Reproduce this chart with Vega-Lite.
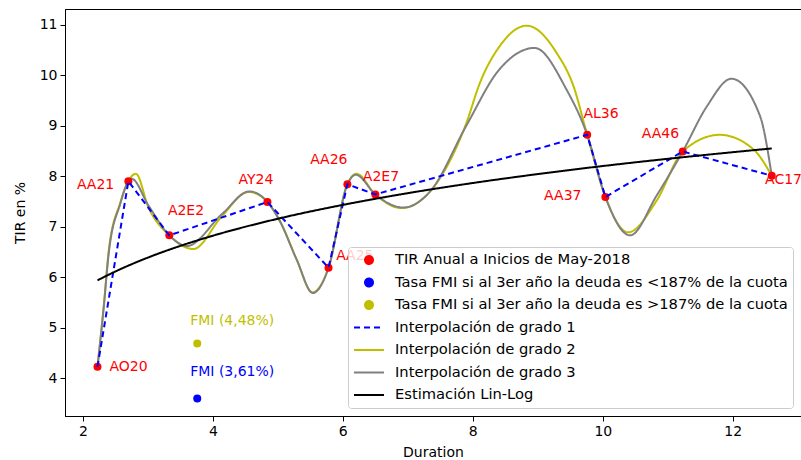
{
  "$schema": "https://vega.github.io/schema/vega-lite/v6.json",
  "width": 736,
  "height": 407,
  "autosize": {"type": "none"},
  "padding": {"left": 65, "top": 9, "right": 0, "bottom": 44},
  "background": "white",
  "config": {
    "font": "DejaVu Sans",
    "view": {"stroke": "black", "strokeWidth": 1},
    "axis": {
      "grid": false, "domainColor": "black", "tickColor": "black", "labelColor": "black",
      "titleColor": "black", "labelFontSize": 14, "titleFontSize": 14, "titleFontWeight": "normal",
      "tickSize": 5, "labelPadding": 3, "domainWidth": 1, "tickWidth": 1, "labelFont": "DejaVu Sans", "titleFont": "DejaVu Sans"
    }
  },
  "datasets": {
    "bonds": [
      {"name": "AO20", "x": 2.225, "y": 4.23, "tx": 2.409, "ty": 4.231},
      {"name": "AA21", "x": 2.70, "y": 7.90, "tx": 1.908, "ty": 7.817},
      {"name": "A2E2", "x": 3.33, "y": 6.83, "tx": 3.308, "ty": 7.322},
      {"name": "AY24", "x": 4.84, "y": 7.49, "tx": 4.394, "ty": 7.921},
      {"name": "AA25", "x": 5.78, "y": 6.19, "tx": 5.897, "ty": 6.418},
      {"name": "AA26", "x": 6.07, "y": 7.84, "tx": 5.497, "ty": 8.317},
      {"name": "A2E7", "x": 6.50, "y": 7.64, "tx": 6.308, "ty": 7.989},
      {"name": "AL36", "x": 9.76, "y": 8.82, "tx": 9.702, "ty": 9.240},
      {"name": "AA37", "x": 10.04, "y": 7.59, "tx": 9.097, "ty": 7.605},
      {"name": "AA46", "x": 11.23, "y": 8.49, "tx": 10.60, "ty": 8.839},
      {"name": "AC17", "x": 12.60, "y": 8.01, "tx": 12.497, "ty": 7.935}
    ],
    "fmi": [
      {"series": "Tasa FMI si al 3er año la deuda es <187% de la cuota", "x": 3.76, "y": 3.60, "label": "FMI (3,61%)", "tx": 3.651, "ty": 4.119},
      {"series": "Tasa FMI si al 3er año la deuda es >187% de la cuota", "x": 3.76, "y": 4.69, "label": "FMI (4,48%)", "tx": 3.651, "ty": 5.127}
    ],
    "grado2": [
      {"x": 2.225, "y": 4.23}, {"x": 2.32, "y": 5.40}, {"x": 2.40, "y": 6.55}, {"x": 2.574, "y": 7.47},
      {"x": 2.70, "y": 7.90}, {"x": 2.815, "y": 8.05}, {"x": 3.01, "y": 7.38}, {"x": 3.33, "y": 6.83},
      {"x": 3.70, "y": 6.56}, {"x": 4.14, "y": 7.21}, {"x": 4.55, "y": 7.69}, {"x": 4.84, "y": 7.49},
      {"x": 5.035, "y": 7.11}, {"x": 5.29, "y": 6.35}, {"x": 5.53, "y": 5.70}, {"x": 5.78, "y": 6.19},
      {"x": 6.07, "y": 7.84}, {"x": 6.21, "y": 8.05}, {"x": 6.50, "y": 7.64}, {"x": 6.90, "y": 7.37},
      {"x": 7.35, "y": 7.71}, {"x": 7.90, "y": 9.05}, {"x": 8.11, "y": 9.85}, {"x": 8.40, "y": 10.55},
      {"x": 8.83, "y": 10.98}, {"x": 9.29, "y": 10.44}, {"x": 9.55, "y": 9.78}, {"x": 9.76, "y": 8.82},
      {"x": 10.04, "y": 7.59}, {"x": 10.39, "y": 6.89}, {"x": 10.83, "y": 7.52}, {"x": 11.23, "y": 8.49},
      {"x": 11.80, "y": 8.82}, {"x": 12.32, "y": 8.53}, {"x": 12.60, "y": 8.01}
    ],
    "grado3": [
      {"x": 2.225, "y": 4.23}, {"x": 2.32, "y": 5.40}, {"x": 2.40, "y": 6.50}, {"x": 2.574, "y": 7.45},
      {"x": 2.70, "y": 7.90}, {"x": 2.75, "y": 7.95}, {"x": 3.01, "y": 7.42}, {"x": 3.33, "y": 6.83},
      {"x": 3.60, "y": 6.62}, {"x": 4.14, "y": 7.25}, {"x": 4.56, "y": 7.70}, {"x": 4.84, "y": 7.49},
      {"x": 5.035, "y": 7.10}, {"x": 5.29, "y": 6.35}, {"x": 5.54, "y": 5.69}, {"x": 5.78, "y": 6.19},
      {"x": 6.07, "y": 7.84}, {"x": 6.20, "y": 8.03}, {"x": 6.50, "y": 7.64}, {"x": 6.93, "y": 7.38},
      {"x": 7.35, "y": 7.71}, {"x": 7.90, "y": 9.00}, {"x": 8.40, "y": 10.10}, {"x": 8.95, "y": 10.54},
      {"x": 9.44, "y": 9.72}, {"x": 9.76, "y": 8.82}, {"x": 10.04, "y": 7.59}, {"x": 10.42, "y": 6.83},
      {"x": 10.83, "y": 7.62}, {"x": 11.23, "y": 8.49}, {"x": 11.60, "y": 9.38}, {"x": 11.98, "y": 9.93},
      {"x": 12.42, "y": 9.19}, {"x": 12.60, "y": 8.01}
    ],
    "linlog": [
      {"x": 2.225, "y": 5.94}, {"x": 2.5, "y": 6.115}, {"x": 3, "y": 6.39}, {"x": 3.5, "y": 6.622},
      {"x": 4, "y": 6.823}, {"x": 5, "y": 7.159}, {"x": 6, "y": 7.433}, {"x": 7, "y": 7.665},
      {"x": 8, "y": 7.866}, {"x": 9, "y": 8.043}, {"x": 10, "y": 8.202}, {"x": 11, "y": 8.345},
      {"x": 12, "y": 8.476}, {"x": 12.6, "y": 8.55}
    ]
  },
  "layer": [
    {
      "data": {"name": "grado2"},
      "mark": {"type": "line", "strokeWidth": 2, "interpolate": "monotone"},
      "encoding": {
        "x": {"field": "x", "type": "quantitative", "title": "Duration",
              "scale": {"domain": [1.725, 13.05], "nice": false, "zero": false},
              "axis": {"values": [2, 4, 6, 8, 10, 12], "format": "d", "titlePadding": 7}},
        "y": {"field": "y", "type": "quantitative", "title": "TIR en %",
              "scale": {"domain": [3.255, 11.31], "nice": false, "zero": false},
              "axis": {"values": [4, 5, 6, 7, 8, 9, 10, 11], "format": "d", "titlePadding": 12}},
        "color": {"datum": "Interpolación de grado 2", "type": "nominal", "title": null,
          "scale": {"domain": ["TIR Anual a Inicios de May-2018", "Tasa FMI si al 3er año la deuda es <187% de la cuota", "Tasa FMI si al 3er año la deuda es >187% de la cuota", "Interpolación de grado 1", "Interpolación de grado 2", "Interpolación de grado 3", "Estimación Lin-Log"],
                    "range": ["#ff0000", "#0000ff", "#bfbf00", "#0000ff", "#bfbf00", "#808080", "#000000"]},
          "legend": {
            "title": null, "orient": "bottom-right", "offset": 8, "padding": 5,
            "fillColor": "rgba(255,255,255,0.8)", "strokeColor": "#cccccc", "cornerRadius": 3,
            "labelFont": "DejaVu Sans", "labelFontSize": 14.7, "labelColor": "black", "labelLimit": 700,
            "symbolStrokeWidth": 2, "symbolOpacity": 1,
            "clipHeight": 16, "rowPadding": 6.5, "labelOffset": 10
          }},
        "strokeDash": {"datum": "Interpolación de grado 2", "type": "nominal", "title": null,
          "scale": {"domain": ["TIR Anual a Inicios de May-2018", "Tasa FMI si al 3er año la deuda es <187% de la cuota", "Tasa FMI si al 3er año la deuda es >187% de la cuota", "Interpolación de grado 1", "Interpolación de grado 2", "Interpolación de grado 3", "Estimación Lin-Log"],
                    "range": [[1, 0], [1, 0], [1, 0], [6, 4], [1, 0], [1, 0], [1, 0]]}}
      }
    },
    {
      "data": {"name": "grado3"},
      "mark": {"type": "line", "strokeWidth": 2, "interpolate": "monotone"},
      "encoding": {
        "x": {"field": "x", "type": "quantitative", "scale": {"domain": [1.725, 13.05], "nice": false, "zero": false}},
        "y": {"field": "y", "type": "quantitative", "scale": {"domain": [3.255, 11.31], "nice": false, "zero": false}},
        "color": {"datum": "Interpolación de grado 3", "type": "nominal", "title": null},
        "strokeDash": {"datum": "Interpolación de grado 3", "type": "nominal", "title": null,
          "scale": {"domain": ["TIR Anual a Inicios de May-2018", "Tasa FMI si al 3er año la deuda es <187% de la cuota", "Tasa FMI si al 3er año la deuda es >187% de la cuota", "Interpolación de grado 1", "Interpolación de grado 2", "Interpolación de grado 3", "Estimación Lin-Log"],
                    "range": [[1, 0], [1, 0], [1, 0], [6, 4], [1, 0], [1, 0], [1, 0]]}}
      }
    },
    {
      "data": {"name": "bonds"},
      "mark": {"type": "point", "filled": true, "opacity": 1},
      "encoding": {
        "x": {"field": "x", "type": "quantitative", "scale": {"domain": [1.725, 13.05], "nice": false, "zero": false}},
        "y": {"field": "y", "type": "quantitative", "scale": {"domain": [3.255, 11.31], "nice": false, "zero": false}},
        "color": {"datum": "TIR Anual a Inicios de May-2018", "type": "nominal", "title": null},
        "shape": {"datum": "TIR Anual a Inicios de May-2018", "type": "nominal", "title": null,
          "scale": {"domain": ["TIR Anual a Inicios de May-2018", "Tasa FMI si al 3er año la deuda es <187% de la cuota", "Tasa FMI si al 3er año la deuda es >187% de la cuota", "Interpolación de grado 1", "Interpolación de grado 2", "Interpolación de grado 3", "Estimación Lin-Log"],
                    "range": ["circle", "circle", "circle", "stroke", "stroke", "stroke", "stroke"]}},
        "size": {"datum": "TIR Anual a Inicios de May-2018", "type": "nominal", "title": null,
          "scale": {"type": "ordinal", "domain": ["TIR Anual a Inicios de May-2018", "Tasa FMI si al 3er año la deuda es <187% de la cuota", "Tasa FMI si al 3er año la deuda es >187% de la cuota", "Interpolación de grado 1", "Interpolación de grado 2", "Interpolación de grado 3", "Estimación Lin-Log"],
                    "range": [64, 64, 64, 900, 900, 900, 900]}}
      }
    },
    {
      "data": {"name": "fmi"},
      "mark": {"type": "point", "filled": true, "opacity": 1},
      "encoding": {
        "x": {"field": "x", "type": "quantitative", "scale": {"domain": [1.725, 13.05], "nice": false, "zero": false}},
        "y": {"field": "y", "type": "quantitative", "scale": {"domain": [3.255, 11.31], "nice": false, "zero": false}},
        "color": {"field": "series", "type": "nominal", "title": null},
        "shape": {"field": "series", "type": "nominal", "title": null,
          "scale": {"domain": ["TIR Anual a Inicios de May-2018", "Tasa FMI si al 3er año la deuda es <187% de la cuota", "Tasa FMI si al 3er año la deuda es >187% de la cuota", "Interpolación de grado 1", "Interpolación de grado 2", "Interpolación de grado 3", "Estimación Lin-Log"],
                    "range": ["circle", "circle", "circle", "stroke", "stroke", "stroke", "stroke"]}},
        "size": {"field": "series", "type": "nominal", "title": null,
          "scale": {"type": "ordinal", "domain": ["TIR Anual a Inicios de May-2018", "Tasa FMI si al 3er año la deuda es <187% de la cuota", "Tasa FMI si al 3er año la deuda es >187% de la cuota", "Interpolación de grado 1", "Interpolación de grado 2", "Interpolación de grado 3", "Estimación Lin-Log"],
                    "range": [64, 64, 64, 900, 900, 900, 900]}}
      }
    },
    {
      "data": {"name": "bonds"},
      "mark": {"type": "line", "strokeWidth": 2},
      "encoding": {
        "x": {"field": "x", "type": "quantitative", "scale": {"domain": [1.725, 13.05], "nice": false, "zero": false}},
        "y": {"field": "y", "type": "quantitative", "scale": {"domain": [3.255, 11.31], "nice": false, "zero": false}},
        "color": {"datum": "Interpolación de grado 1", "type": "nominal", "title": null},
        "strokeDash": {"datum": "Interpolación de grado 1", "type": "nominal", "title": null,
          "scale": {"domain": ["TIR Anual a Inicios de May-2018", "Tasa FMI si al 3er año la deuda es <187% de la cuota", "Tasa FMI si al 3er año la deuda es >187% de la cuota", "Interpolación de grado 1", "Interpolación de grado 2", "Interpolación de grado 3", "Estimación Lin-Log"],
                    "range": [[1, 0], [1, 0], [1, 0], [6, 4], [1, 0], [1, 0], [1, 0]]}}
      }
    },
    {
      "data": {"name": "linlog"},
      "mark": {"type": "line", "strokeWidth": 2, "interpolate": "monotone"},
      "encoding": {
        "x": {"field": "x", "type": "quantitative", "scale": {"domain": [1.725, 13.05], "nice": false, "zero": false}},
        "y": {"field": "y", "type": "quantitative", "scale": {"domain": [3.255, 11.31], "nice": false, "zero": false}},
        "color": {"datum": "Estimación Lin-Log", "type": "nominal", "title": null},
        "strokeDash": {"datum": "Estimación Lin-Log", "type": "nominal", "title": null,
          "scale": {"domain": ["TIR Anual a Inicios de May-2018", "Tasa FMI si al 3er año la deuda es <187% de la cuota", "Tasa FMI si al 3er año la deuda es >187% de la cuota", "Interpolación de grado 1", "Interpolación de grado 2", "Interpolación de grado 3", "Estimación Lin-Log"],
                    "range": [[1, 0], [1, 0], [1, 0], [6, 4], [1, 0], [1, 0], [1, 0]]}}
      }
    },
    {
      "data": {"name": "bonds"},
      "mark": {"type": "text", "align": "left", "baseline": "middle", "fontSize": 14, "font": "DejaVu Sans", "color": "#ff0000"},
      "encoding": {
        "x": {"field": "tx", "type": "quantitative", "scale": {"domain": [1.725, 13.05], "nice": false, "zero": false}},
        "y": {"field": "ty", "type": "quantitative", "scale": {"domain": [3.255, 11.31], "nice": false, "zero": false}},
        "text": {"field": "name"}
      }
    },
    {
      "data": {"name": "fmi"},
      "mark": {"type": "text", "align": "left", "baseline": "middle", "fontSize": 14, "font": "DejaVu Sans"},
      "encoding": {
        "x": {"field": "tx", "type": "quantitative", "scale": {"domain": [1.725, 13.05], "nice": false, "zero": false}},
        "y": {"field": "ty", "type": "quantitative", "scale": {"domain": [3.255, 11.31], "nice": false, "zero": false}},
        "text": {"field": "label"},
        "color": {"field": "series", "type": "nominal", "title": null}
      }
    }
  ]
}
